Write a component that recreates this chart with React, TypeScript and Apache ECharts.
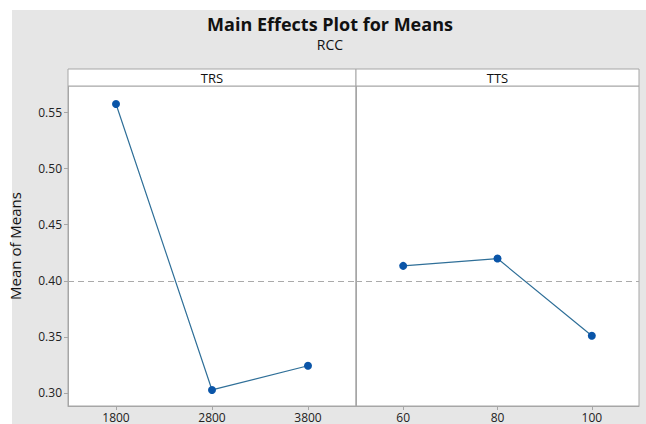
import React, { useEffect, useRef } from "react";
import * as echarts from "echarts";

const trsLevels = ["1800", "2800", "3800"];
const trsMeans = [0.5576, 0.3027, 0.3243];
const ttsLevels = ["60", "80", "100"];
const ttsMeans = [0.4133, 0.4198, 0.351];
const grandMean = 0.3955;
const yTicks = [0.3, 0.35, 0.4, 0.45, 0.5, 0.55];
const yMin = 0.2884;
const yMax = 0.5736;
const panelNames = ["TRS", "TTS"];
const titleText = "Main Effects Plot for Means";
const subtitleText = "RCC";
const yName = "Mean of Means";

const FONT = "Open Sans";
const BORDER = "#a6a6a6";

export default function App() {
  const ref = useRef<HTMLDivElement>(null);
  useEffect(() => {
    document.body.style.margin = "0";
    const chart = echarts.init(ref.current!, null, { renderer: "svg" });
    const gridTop = 86;
    const gridH = 320;
    const g1 = { left: 68, width: 288 };
    const g2 = { left: 356, width: 283 };
    const mkX = (idx: number, data: string[]) => ({
      type: "category",
      gridIndex: idx,
      data,
      boundaryGap: true,
      axisLine: { show: true, lineStyle: { color: BORDER } },
      axisTick: { show: true, alignWithLabel: true, length: 4, lineStyle: { color: BORDER } },
      axisLabel: { color: "#222", fontSize: 12, lineHeight: 12, fontFamily: FONT, margin: 5 },
      splitLine: { show: false },
    });
    const mkY = (idx: number, showLabels: boolean) => ({
      type: "value",
      gridIndex: idx,
      min: yMin,
      max: yMax,
      name: showLabels ? yName : "",
      nameLocation: "middle",
      nameGap: 46,
      nameTextStyle: { color: "#111", fontSize: 15, fontFamily: FONT },
      axisLine: { show: true, lineStyle: { color: BORDER } },
      axisTick: { show: showLabels, length: 4, customValues: yTicks, lineStyle: { color: BORDER } },
      axisLabel: {
        show: showLabels,
        customValues: yTicks,
        color: "#222",
        fontSize: 12,
        fontFamily: FONT,
        margin: 6,
        formatter: (v: number) => v.toFixed(2),
      },
      splitLine: { show: false },
    });
    const mkSeries = (idx: number, data: number[]) => ({
      type: "line",
      xAxisIndex: idx,
      yAxisIndex: idx,
      data,
      symbol: "circle",
      symbolSize: 8,
      itemStyle: { color: "#0a55a8" },
      lineStyle: { color: "#2f6f98", width: 1.2 },
      markLine: {
        silent: true,
        symbol: "none",
        label: { show: false },
        lineStyle: { color: "#aaaaaa", type: [6, 4], width: 1.2 },
        data: [{ yAxis: grandMean }],
      },
    });
    chart.setOption({
      animation: false,
      backgroundColor: "#ffffff",
      grid: [
        { ...g1, top: gridTop, height: gridH, show: true, borderColor: BORDER, borderWidth: 1, backgroundColor: "#fff", outerBoundsMode: "none" },
        { ...g2, top: gridTop, height: gridH, show: true, borderColor: BORDER, borderWidth: 1, backgroundColor: "#fff", outerBoundsMode: "none" },
      ],
      xAxis: [mkX(0, trsLevels), mkX(1, ttsLevels)],
      yAxis: [mkY(0, true), mkY(1, false)],
      series: [mkSeries(0, trsMeans), mkSeries(1, ttsMeans)],
      graphic: [
        { type: "rect", z: -10, silent: true, shape: { x: 12, y: 10, width: 640, height: 420 }, style: { fill: "#e6e6e6" } },
        { type: "rect", z: 10, shape: { x: g1.left, y: 69, width: g1.width, height: 17 }, style: { fill: "#fff", stroke: BORDER, lineWidth: 1 } },
        { type: "rect", z: 10, shape: { x: g2.left, y: 69, width: g2.width, height: 17 }, style: { fill: "#fff", stroke: BORDER, lineWidth: 1 } },
        { type: "text", z: 11, x: g1.left + g1.width / 2, y: 78, style: { text: panelNames[0], fontSize: 13, fontFamily: FONT, fill: "#111", align: "center", verticalAlign: "middle" } },
        { type: "text", z: 11, x: g2.left + g2.width / 2, y: 78, style: { text: panelNames[1], fontSize: 13, fontFamily: FONT, fill: "#111", align: "center", verticalAlign: "middle" } },
        { type: "text", z: 11, x: 330, y: 24, style: { text: titleText, fontSize: 18, fontWeight: "bold", fontFamily: FONT, fill: "#111", align: "center", verticalAlign: "middle" } },
        { type: "text", z: 11, x: 330, y: 44, style: { text: subtitleText, fontSize: 14, fontFamily: FONT, fill: "#111", align: "center", verticalAlign: "middle" } },
      ],
    });
    return () => chart.dispose();
  }, []);
  return <div ref={ref} style={{ width: 646, height: 424 }} />;
}
